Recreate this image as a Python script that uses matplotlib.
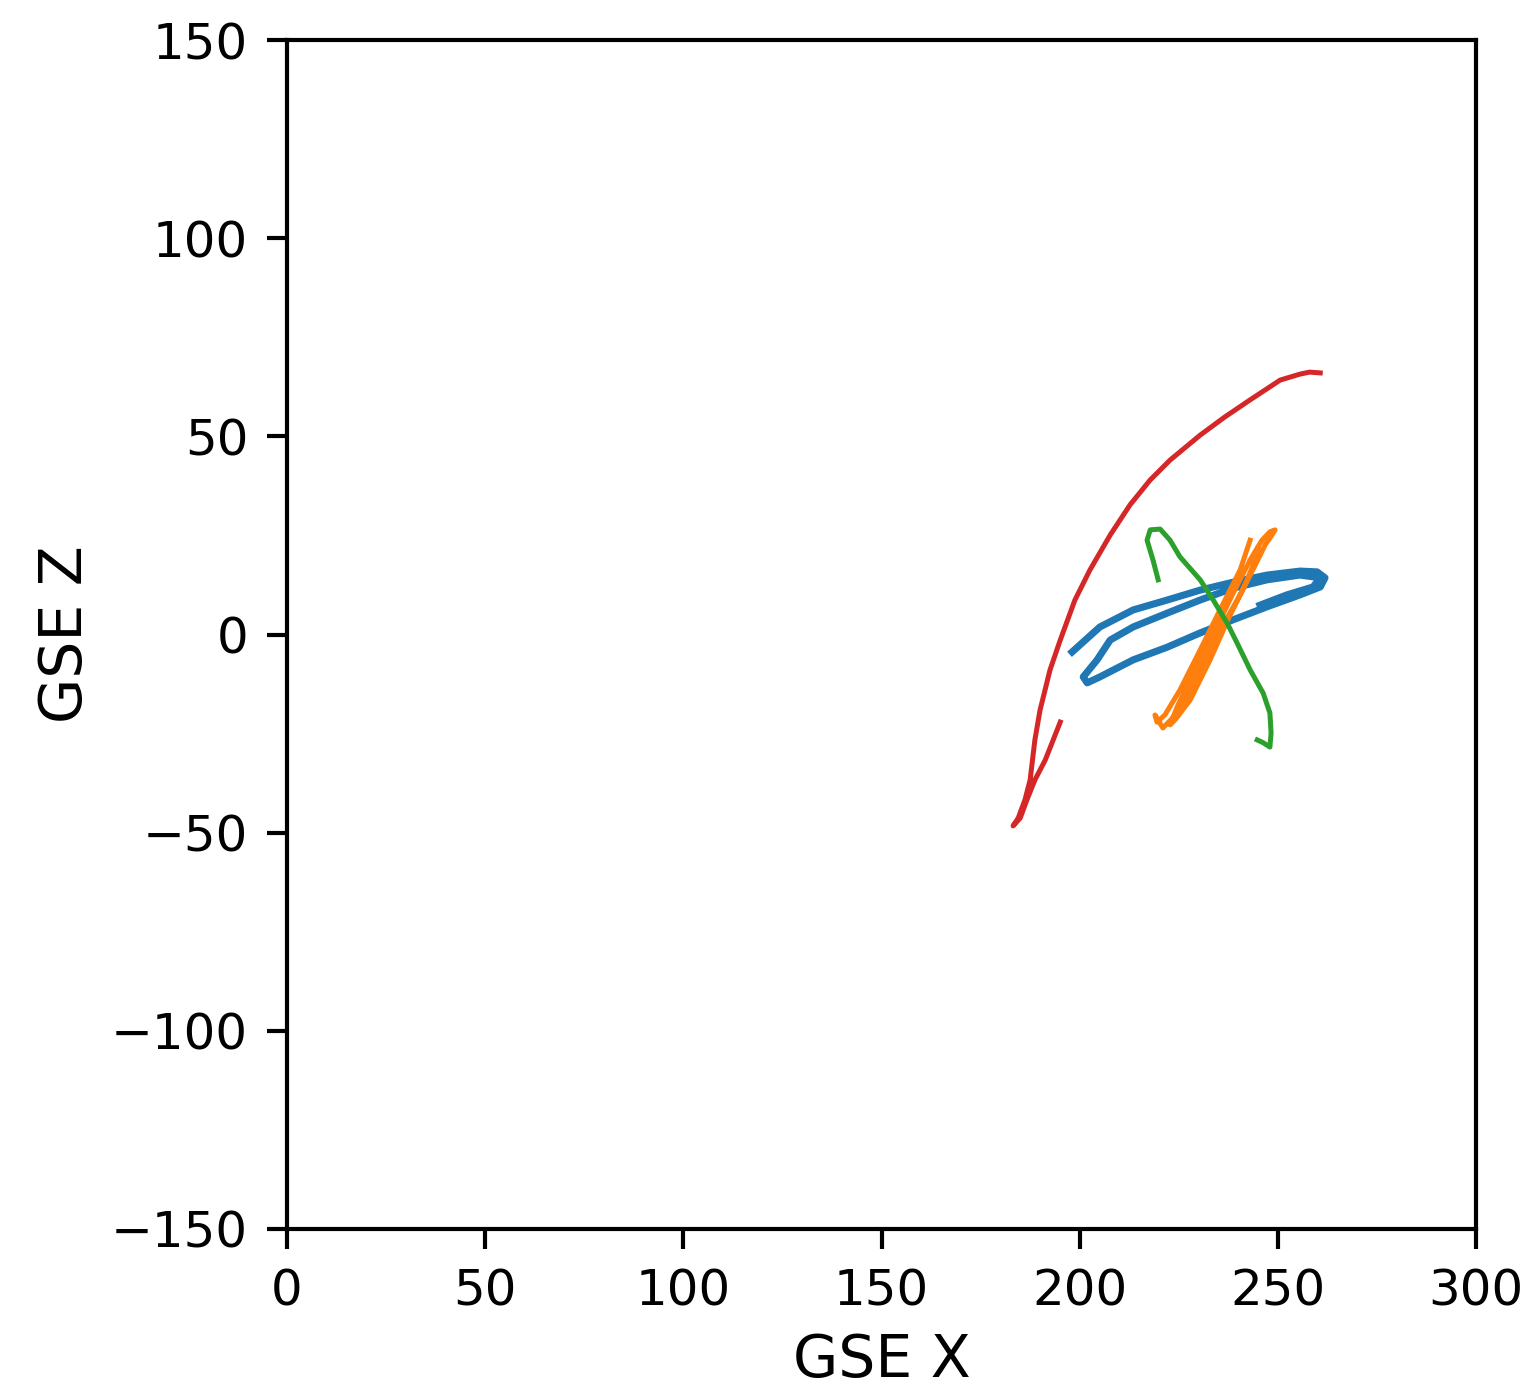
import matplotlib; matplotlib.use("Agg")
import matplotlib.pyplot as plt

# spacecraft tracks in GSE coordinates (x, z)
blue_x = [198.1, 205.1, 213.5, 222.1, 230.4, 238.7, 247.3, 255.6, 259.9, 261.9, 260.7, 255.6,
          247.3, 238.7, 230.4, 222.1, 213.5, 205.1, 201.9, 200.9, 204.4, 207.7, 213.5, 222.1,
          230.4, 238.7, 247.3, 255.6, 260.7, 258.9, 252.3, 245.5]
blue_z = [-4.4, 1.9, 6.2, 8.7, 11.2, 13.2, 15.0, 16.0, 15.8, 14.3, 12.0, 10.0,
          7.0, 3.7, 0.4, -3.2, -6.4, -10.7, -12.2, -10.7, -6.4, -1.4, 1.9, 5.4,
          8.7, 11.7, 13.8, 15.0, 14.3, 12.0, 10.0, 7.4]

orange_x = [243.0, 240.5, 235.4, 230.4, 225.3, 221.5, 219.5, 219.0, 221.0, 225.3, 230.4,
            235.4, 240.5, 244.3, 246.8, 248.5, 249.3, 248.0, 246.0, 243.0, 238.5, 234.2,
            229.1, 224.8, 222.8, 224.1, 227.9, 232.9, 237.4, 241.7, 244.3, 245.0]
orange_z = [23.8, 16.3, 6.2, -3.9, -14.0, -20.3, -22.1, -20.3, -23.6, -19.1, -9.0,
            1.1, 10.0, 17.5, 22.6, 25.1, 26.4, 25.9, 23.8, 18.8, 10.0, 1.1,
            -9.0, -17.8, -22.8, -21.5, -16.5, -6.4, 3.7, 12.5, 18.8, 21.8]

green_x = [219.8, 218.5, 217.0, 217.8, 220.3, 222.8, 225.3, 230.4, 233.7, 237.2, 239.7,
           243.0, 246.3, 248.0, 248.3, 248.0, 246.3, 244.8]
green_z = [13.8, 18.8, 23.8, 26.4, 26.6, 23.8, 19.6, 13.8, 8.7, 2.9, -2.1,
           -8.9, -14.8, -19.8, -24.9, -28.4, -27.3, -26.6]

red_x = [260.7, 258.0, 255.6, 250.6, 243.0, 236.5, 230.4, 222.8, 217.8, 212.7, 207.7, 202.6,
         198.8, 195.1, 192.5, 190.0, 188.7, 187.5, 186.2, 184.5, 183.2, 185.0, 186.7,
         188.7, 191.3, 195.1]
red_z = [66.0, 66.2, 65.7, 64.2, 59.2, 54.8, 50.3, 44.0, 39.0, 32.7, 25.1, 16.3,
         8.7, -1.4, -9.0, -19.1, -26.6, -36.7, -41.7, -46.3, -48.3, -46.3, -41.7,
         -36.7, -31.7, -22.1]

fig = plt.figure(figsize=(1531/300, 1398/300), dpi=300)
ax = fig.add_axes([287/1531, 1-1229/1398, (1476-287)/1531, (1229-40)/1398])
ax.plot(blue_x, blue_z, color="tab:blue", lw=1.7, solid_joinstyle="round")
ax.plot(orange_x, orange_z, color="tab:orange", lw=1.2, solid_joinstyle="round")
ax.plot(green_x, green_z, color="tab:green", lw=1.2, solid_joinstyle="round")
ax.plot(red_x, red_z, color="tab:red", lw=1.2, solid_joinstyle="round")
ax.set_xlim(0, 300); ax.set_ylim(-150, 150)
ax.set_xticks(range(0, 301, 50)); ax.set_yticks(range(-150, 151, 50))
ax.tick_params(labelsize=12, length=4.8, width=1.0, pad=4.5)
for s in ax.spines.values():
    s.set_linewidth(1.0)
ax.set_xlabel("GSE X", fontsize=14); ax.set_ylabel("GSE Z", fontsize=14)
fig.savefig("out.png", dpi=300)
